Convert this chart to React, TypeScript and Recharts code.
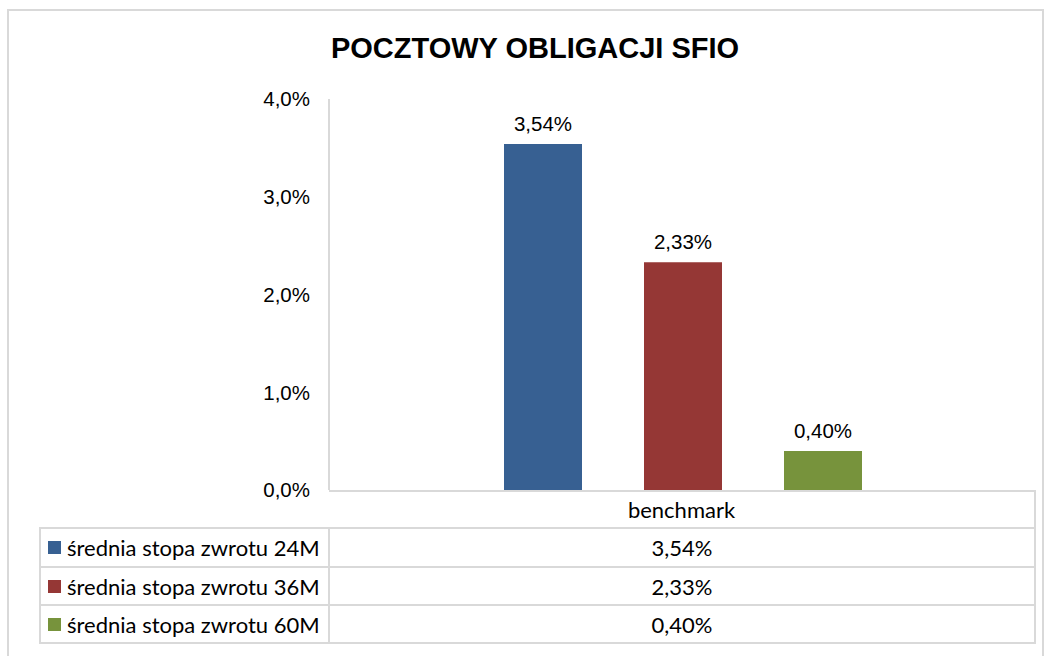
import { BarChart, Bar, YAxis, XAxis, LabelList } from 'recharts';

const categories = ['benchmark'];
const seriesNames = ['średnia stopa zwrotu 24M', 'średnia stopa zwrotu 36M', 'średnia stopa zwrotu 60M'];
const seriesValues = [3.54, 2.33, 0.4];
const seriesColors = ['#376092', '#953735', '#77933C'];
const yTicks = [0, 1, 2, 3, 4];

const chartTitle = 'POCZTOWY OBLIGACJI SFIO';

const data = categories.map((cat) => {
  const row: Record<string, string | number> = { category: cat };
  seriesValues.forEach((v, i) => {
    row[`s${i}`] = v;
  });
  return row;
});

const fmtTick = (v: number) => v.toFixed(1).replace('.', ',') + '%';
const fmtValue = (v: number) => v.toFixed(2).replace('.', ',') + '%';

const gridColor = '#d9d9d9';
const tableFont = 'Lato, "Open Sans", sans-serif';
const arial = 'Arial, "Liberation Sans", sans-serif';

export default function App() {
  const plotLeft = 329;
  const plotRight = 1036;
  const rowTops = [490, 527, 566, 604, 642];

  return (
    <div style={{ position: 'absolute', left: 0, top: 0, width: 1047, height: 656, background: '#fff', overflow: 'hidden' }}>
      <div
        style={{
          position: 'absolute',
          left: 7,
          top: 9,
          width: 1037,
          height: 660,
          border: `2px solid ${gridColor}`,
          boxSizing: 'border-box',
        }}
      />
      <div
        style={{
          position: 'absolute',
          left: 0,
          top: 30,
          width: 1070,
          textAlign: 'center',
          fontFamily: arial,
          fontWeight: 'bold',
          fontSize: 29,
          lineHeight: '36px',
          color: '#000',
        }}
      >
        {chartTitle}
      </div>
      <div style={{ position: 'absolute', left: 0, top: 0 }}>
        <BarChart
          width={1047}
          height={656}
          data={data}
          margin={{ top: 99, right: 1047 - plotRight, bottom: 656 - 490, left: 0 }}
          barSize={78}
          barGap={62}
          barCategoryGap={0}
        >
          <XAxis dataKey="category" hide />
          <YAxis
            width={plotLeft}
            domain={[0, 4]}
            ticks={yTicks}
            tickFormatter={fmtTick}
            tickLine={false}
            tickSize={8}
            tickMargin={11}
            axisLine={{ stroke: gridColor, strokeWidth: 2 }}
            tick={{ fill: '#000', fontSize: 20.5, fontFamily: arial }}
            interval={0}
          />
          {seriesNames.map((name, i) => (
            <Bar key={name} dataKey={`s${i}`} name={name} fill={seriesColors[i]} isAnimationActive={false}>
              <LabelList
                dataKey={`s${i}`}
                position="top"
                offset={13}
                formatter={(v: number) => fmtValue(v)}
                style={{ fill: '#000', fontSize: 20.5, fontFamily: arial }}
              />
            </Bar>
          ))}
        </BarChart>
      </div>
      {/* data table under the plot */}
      <div
        style={{
          position: 'absolute',
          left: plotLeft,
          top: rowTops[0],
          width: plotRight - plotLeft,
          height: rowTops[1] - rowTops[0],
          borderTop: `2px solid ${gridColor}`,
          borderRight: `2px solid ${gridColor}`,
          boxSizing: 'border-box',
          display: 'flex',
          alignItems: 'center',
          justifyContent: 'center',
          fontFamily: tableFont,
          fontSize: 22,
          color: '#000',
        }}
      >
        {categories[0]}
      </div>
      {seriesNames.map((name, i) => (
        <div key={name}>
          <div
            style={{
              position: 'absolute',
              left: 39,
              top: rowTops[i + 1],
              width: plotLeft - 39,
              height: rowTops[i + 2] - rowTops[i + 1] + 2,
              border: `2px solid ${gridColor}`,
              borderRight: 'none',
              boxSizing: 'border-box',
              display: 'flex',
              alignItems: 'center',
              fontFamily: tableFont,
              fontSize: 22,
              color: '#000',
              whiteSpace: 'nowrap',
            }}
          >
            <span style={{ display: 'inline-block', width: 13, height: 13, background: seriesColors[i], marginLeft: 7, marginRight: 6 }} />
            {name}
          </div>
          <div
            style={{
              position: 'absolute',
              left: plotLeft - 1,
              top: rowTops[i + 1],
              width: plotRight - plotLeft + 1,
              height: rowTops[i + 2] - rowTops[i + 1] + 2,
              border: `2px solid ${gridColor}`,
              boxSizing: 'border-box',
              display: 'flex',
              alignItems: 'center',
              justifyContent: 'center',
              fontFamily: tableFont,
              fontSize: 22,
              color: '#000',
            }}
          >
            {fmtValue(seriesValues[i])}
          </div>
        </div>
      ))}
    </div>
  );
}
